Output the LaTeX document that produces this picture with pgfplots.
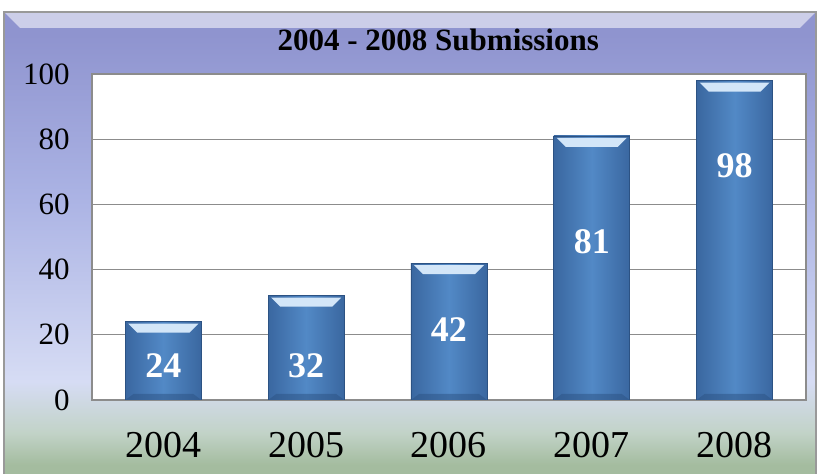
\documentclass[border=0pt]{standalone}
\usepackage{fontspec}
\setmainfont{Liberation Serif}
\usepackage{pgfplots}
\pgfplotsset{compat=1.18}

\definecolor{bgTop}{HTML}{8F94CF}
\definecolor{bgMid}{HTML}{ABB3E4}
\definecolor{bgLow}{HTML}{D6DCF4}
\definecolor{bgGreen}{HTML}{C2D3C8}
\definecolor{bgBot}{HTML}{A4BC9F}
\definecolor{barMid}{HTML}{5289C6}
\definecolor{barEdge}{HTML}{3A67A0}
\definecolor{barLine}{HTML}{2C5283}
\definecolor{barHi}{HTML}{D3E6F8}
\definecolor{gridc}{HTML}{8C8C8C}

% stops between 25bp and 75bp cover the shaded path
\pgfdeclareverticalshading{chartbg}{100bp}{color(0bp)=(bgBot); color(26bp)=(bgBot);
  color(29.5bp)=(bgGreen); color(35bp)=(bgLow); color(55bp)=(bgMid); color(72.5bp)=(bgTop); color(100bp)=(bgTop)}

% corner of the bar + offset (basic layer, so nothing is inherited)
\newcommand\bb[3]{\pgfpointadd{\pgfpointanchor{path picture bounding box}{#1}}{\pgfpoint{#2}{#3}}}

\tikzset{
  bevel/.style={path picture={
      \pgfsetfillcolor{barHi}
      \pgfpathmoveto{\bb{north west}{1.5pt}{-1pt}}
      \pgfpathlineto{\bb{north east}{-1.5pt}{-1pt}}
      \pgfpathlineto{\bb{north east}{-6pt}{-5.5pt}}
      \pgfpathlineto{\bb{north west}{6pt}{-5.5pt}}
      \pgfpathclose
      \pgfusepath{fill}
      \pgfsetfillcolor{barLine}
      \pgfsetfillopacity{0.5}
      \pgfpathmoveto{\bb{south west}{0pt}{0pt}}
      \pgfpathlineto{\bb{south east}{0pt}{0pt}}
      \pgfpathlineto{\bb{south east}{-4pt}{3pt}}
      \pgfpathlineto{\bb{south west}{4pt}{3pt}}
      \pgfpathclose
      \pgfusepath{fill}
    }},
  onebar/.style={left color=barEdge, right color=barEdge, middle color=barMid,
    draw=barLine, line width=0.4pt, bar shift=0pt, bevel},
}

\begin{document}
\begin{tikzpicture}
% picture frame, 820x474 px at 0.5pt per px
\path[use as bounding box] (0,0) rectangle (410pt,237pt);
\shade[shading=chartbg] (2pt,0) rectangle (408pt,231pt);
\fill[white, opacity=0.55] (2pt,231pt) -- (408pt,231pt) -- (400pt,223pt) -- (10pt,223pt) -- cycle;
\draw[gray!80, line width=0.8pt] (2pt,0) -- (2pt,231pt) -- (408pt,231pt) -- (408pt,0);

\begin{axis}[
    at={(46pt,37pt)}, anchor=south west,
    scale only axis,
    width=357pt, height=163pt,
    ybar, bar width=38pt,
    xmin=-0.5, xmax=4.5,
    ymin=0, ymax=100,
    xtick={0,1,2,3,4},
    xticklabels={2004,2005,2006,2007,2008},
    ytick={0,20,40,60,80,100},
    major tick length=0pt,
    ymajorgrids,
    grid style={gridc, line width=0.6pt},
    axis line style={gridc, line width=0.6pt},
    axis background/.style={fill=white},
    /pgf/number format/assume math mode=true,
    xticklabel style={font=\fontsize{19}{19}\selectfont, anchor=north, inner sep=0pt, yshift=-16pt},
    yticklabel style={font=\fontsize{15.5}{15.5}\selectfont, anchor=east, inner sep=0pt, xshift=-11pt},
    title={2004 - 2008 Submissions},
    title style={font=\bfseries\fontsize{15.5}{15.5}\selectfont, at={(0.485,1)}, anchor=base, yshift=5.5pt},
]
\addplot[onebar] coordinates {(0,24)};
\addplot[onebar] coordinates {(1,32)};
\addplot[onebar] coordinates {(2,42)};
\addplot[onebar] coordinates {(3,81)};
\addplot[onebar] coordinates {(4,98)};

\node[white, font=\bfseries\fontsize{18}{18}\selectfont] at (axis cs:0,10.7) {24};
\node[white, font=\bfseries\fontsize{18}{18}\selectfont] at (axis cs:1,10.4) {32};
\node[white, font=\bfseries\fontsize{18}{18}\selectfont] at (axis cs:2,21.5) {42};
\node[white, font=\bfseries\fontsize{18}{18}\selectfont] at (axis cs:3,48.5) {81};
\node[white, font=\bfseries\fontsize{18}{18}\selectfont] at (axis cs:4,72) {98};
\end{axis}
\end{tikzpicture}
\end{document}
